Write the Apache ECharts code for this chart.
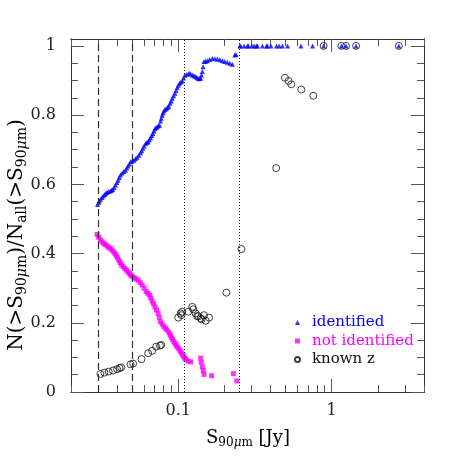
<!DOCTYPE html>
<html>
<head>
<meta charset="utf-8">
<script src="https://cdn.jsdelivr.net/npm/echarts@6/dist/echarts.min.js"></script>
<style>
  html, body { margin: 0; padding: 0; background: #fff; }
  #chart { width: 463px; height: 463px; }
</style>
</head>
<body>
<div id="chart"></div>
<script>
// cumulative fractions
const identifiedFlux = [
  0.0298, 0.0303, 0.0306, 0.0312, 0.0319, 0.0325, 0.0332, 0.0338, 0.0344, 0.0352,
  0.0361, 0.0368, 0.0374, 0.0382, 0.0390, 0.0398, 0.0406, 0.0413, 0.0420, 0.0431,
  0.0442, 0.0453, 0.0462, 0.0471, 0.0480, 0.0489, 0.0500, 0.0514, 0.0527, 0.0540,
  0.0554, 0.0568, 0.0578, 0.0588, 0.0600, 0.0612, 0.0625, 0.0637, 0.0648, 0.0660,
  0.0672, 0.0684, 0.0695, 0.0705, 0.0717, 0.0729, 0.0742, 0.0756, 0.0767, 0.0776,
  0.0786, 0.0796, 0.0806, 0.0820, 0.0835, 0.0852, 0.0869, 0.0885, 0.0900, 0.0914,
  0.0933, 0.0952, 0.0968, 0.0985, 0.1003, 0.1021, 0.1042, 0.1062, 0.1083, 0.1106,
  0.1140, 0.1175, 0.1205, 0.1235, 0.1267, 0.1299, 0.1325, 0.1351, 0.1380, 0.1401,
  0.1418, 0.1435, 0.1452, 0.1472, 0.1510, 0.1547, 0.1600, 0.1667, 0.1730, 0.1799,
  0.1870, 0.1940, 0.2010, 0.2090, 0.2170, 0.2254, 0.2337, 0.2380, 0.2520, 0.2557,
  0.2688, 0.2825, 0.2868, 0.3018, 0.3125, 0.3235, 0.3283, 0.354, 0.3759, 0.382,
  0.402, 0.437, 0.455, 0.478, 0.516, 0.631, 0.751, 0.887, 1.157, 1.242,
  1.443, 2.74
];
const identifiedFrac = [
  0.542, 0.548, 0.552, 0.557, 0.562, 0.567, 0.571, 0.574, 0.577, 0.579,
  0.581, 0.583, 0.585, 0.591, 0.598, 0.605, 0.612, 0.620, 0.627, 0.633,
  0.637, 0.641, 0.647, 0.653, 0.659, 0.665, 0.667, 0.670, 0.674, 0.678,
  0.684, 0.691, 0.697, 0.704, 0.711, 0.718, 0.721, 0.723, 0.729, 0.735,
  0.741, 0.747, 0.754, 0.761, 0.764, 0.766, 0.769, 0.771, 0.783, 0.791,
  0.800, 0.806, 0.812, 0.816, 0.819, 0.822, 0.826, 0.834, 0.841, 0.849,
  0.856, 0.863, 0.871, 0.880, 0.886, 0.892, 0.896, 0.899, 0.907, 0.915,
  0.918, 0.921, 0.919, 0.916, 0.914, 0.912, 0.909, 0.905, 0.906, 0.907,
  0.916, 0.926, 0.940, 0.955, 0.956, 0.957, 0.961, 0.964, 0.963, 0.962,
  0.960, 0.957, 0.955, 0.953, 0.950, 0.947, 0.974, 0.975, 1, 1,
  1, 1, 1, 1, 1, 1, 1, 1, 1, 1,
  1, 1, 1, 1, 1, 1, 1, 1, 1, 1,
  1, 1
];

const notIdentifiedFlux = [
  0.0296, 0.0303, 0.0311, 0.0319, 0.0327, 0.0335, 0.0344, 0.0352, 0.0361, 0.0370,
  0.0380, 0.0387, 0.0394, 0.0402, 0.0410, 0.0418, 0.0427, 0.0438, 0.0449, 0.0460,
  0.0471, 0.0480, 0.0489, 0.0501, 0.0514, 0.0531, 0.0548, 0.0565, 0.0582, 0.0600,
  0.0618, 0.0634, 0.0650, 0.0663, 0.0676, 0.0690, 0.0705, 0.0722, 0.0740, 0.0753,
  0.0767, 0.0786, 0.0806, 0.0826, 0.0847, 0.0869, 0.0886, 0.0903, 0.0920, 0.0938,
  0.0955, 0.0973, 0.0992, 0.1011, 0.1030, 0.1049, 0.1069, 0.1089, 0.1106, 0.1123,
  0.1160, 0.1205, 0.1401, 0.1413, 0.1435, 0.1457, 0.1472, 0.1652, 0.2288, 0.2409
];
const notIdentifiedFrac = [
  0.455, 0.447, 0.439, 0.434, 0.429, 0.426, 0.422, 0.418, 0.415, 0.410,
  0.405, 0.400, 0.394, 0.388, 0.381, 0.374, 0.367, 0.362, 0.357, 0.352,
  0.347, 0.343, 0.338, 0.334, 0.330, 0.327, 0.323, 0.316, 0.309, 0.300,
  0.290, 0.285, 0.280, 0.272, 0.263, 0.255, 0.246, 0.237, 0.227, 0.215,
  0.203, 0.196, 0.189, 0.184, 0.179, 0.172, 0.165, 0.158, 0.152, 0.145,
  0.140, 0.134, 0.129, 0.124, 0.118, 0.113, 0.107, 0.102, 0.097, 0.094,
  0.089, 0.087, 0.098, 0.086, 0.073, 0.062, 0.051, 0.047, 0.053, 0.032
];

const knownZFlux = [
  0.0311, 0.0330, 0.0352, 0.0376, 0.0399, 0.0415, 0.0425, 0.0489, 0.0508, 0.0576,
  0.0637, 0.0676, 0.0718, 0.0760, 0.0775, 0.1000, 0.1037, 0.1062, 0.1050, 0.1162,
  0.1235, 0.1253, 0.1299, 0.1330, 0.1351, 0.1401, 0.1420, 0.1472, 0.1510, 0.1587,
  0.2060, 0.2582, 0.435, 0.496, 0.524, 0.545, 0.634, 0.759, 0.887, 1.157,
  1.242, 1.443, 2.74
];
const knownZFrac = [
  0.052, 0.056, 0.059, 0.062, 0.066, 0.069, 0.071, 0.080, 0.082, 0.095,
  0.112, 0.119, 0.131, 0.134, 0.136, 0.215, 0.227, 0.232, 0.222, 0.232,
  0.246, 0.239, 0.227, 0.219, 0.219, 0.213, 0.210, 0.222, 0.206, 0.215,
  0.287, 0.413, 0.647, 0.908, 0.899, 0.889, 0.874, 0.856, 1, 1,
  1, 1, 1
];

const dashedCuts = [0.03, 0.048];
const dottedCuts = [0.11, 0.25];

const xMajorTicks = [0.1, 1];
const xMinorTicks = [0.02, 0.03, 0.04, 0.05, 0.06, 0.07, 0.08, 0.09,
  0.2, 0.3, 0.4, 0.5, 0.6, 0.7, 0.8, 0.9, 2, 3, 4];
const yMajorTicks = [0, 0.2, 0.4, 0.6, 0.8, 1];
const yMinorTicks = [0.05, 0.1, 0.15, 0.25, 0.3, 0.35, 0.45, 0.5, 0.55,
  0.65, 0.7, 0.75, 0.85, 0.9, 0.95];

const zip = (xs, ys) => xs.map((x, i) => [x, ys[i]]);

const FONT = "DejaVu Serif";
const AXIS_COLOR = "#333";

function xAxisDef(position, ticks, len, labels) {
  return {
    type: "log",
    logBase: 10,
    min: 0.02,
    max: 4,
    position: position,
    axisLine: { show: true, onZero: false, lineStyle: { color: AXIS_COLOR, width: 1 } },
    axisTick: { show: true, inside: true, length: len, customValues: ticks,
      lineStyle: { color: "#555", width: 1 } },
    axisLabel: labels
      ? { show: true, customValues: ticks, margin: 11, color: "#222",
          fontFamily: FONT, fontSize: 16 }
      : { show: false },
    splitLine: { show: false }
  };
}

function yAxisDef(position, ticks, len, labels) {
  return {
    type: "value",
    min: 0,
    max: 1.02,
    position: position,
    axisLine: { show: true, onZero: false, lineStyle: { color: AXIS_COLOR, width: 1 } },
    axisTick: { show: true, inside: true, length: len, customValues: ticks,
      lineStyle: { color: "#555", width: 1 } },
    axisLabel: labels
      ? { show: true, customValues: ticks, margin: 15, color: "#222",
          fontFamily: FONT, fontSize: 16 }
      : { show: false },
    splitLine: { show: false }
  };
}

const cutMarks = dashedCuts.map(v => ({
  xAxis: v, lineStyle: { type: [7, 4], color: "#333", width: 1.2 }
})).concat(dottedCuts.map(v => ({
  xAxis: v, lineStyle: { type: [1, 2], color: "#111", width: 1 }
})));

const chart = echarts.init(document.getElementById("chart"));

const titleRich = size => ({
  a: { fontFamily: FONT, fontSize: size, lineHeight: size + 4, color: "#222" },
  b: { fontFamily: FONT, fontSize: size - 6, lineHeight: size - 6, verticalAlign: "bottom",
       color: "#222" },
  bi: { fontFamily: FONT, fontSize: size - 6, lineHeight: size - 6, verticalAlign: "bottom",
        fontStyle: "italic", color: "#222" }
});

const legendText = color => ({
  color: color, fontFamily: FONT, fontSize: 15, lineHeight: 14, padding: [0, 0, 0, 7]
});

chart.setOption({
  animation: false,
  backgroundColor: "#fff",
  grid: { left: 71, right: 39, top: 39, bottom: 71 },
  xAxis: [
    xAxisDef("bottom", xMajorTicks, 13, true),
    xAxisDef("bottom", xMinorTicks, 7, false),
    xAxisDef("top", xMajorTicks, 13, false),
    xAxisDef("top", xMinorTicks, 7, false)
  ],
  yAxis: [
    yAxisDef("left", yMajorTicks, 13, true),
    yAxisDef("left", yMinorTicks, 7, false),
    yAxisDef("right", yMajorTicks, 13, false),
    yAxisDef("right", yMinorTicks, 7, false)
  ],
  legend: {
    orient: "vertical",
    left: 294,
    top: 315,
    padding: 0,
    itemWidth: 5,
    itemHeight: 5,
    itemGap: 3.5,
    textStyle: legendText("#222"),
    data: [
      { name: "identified", icon: "triangle", textStyle: legendText("#0000ff") },
      { name: "not identified", icon: "rect", textStyle: legendText("#ff00ff") },
      { name: "known z", icon: "circle", textStyle: legendText("#111") }
    ]
  },
  graphic: [
    {
      type: "text",
      x: 248,
      y: 438,
      style: {
        text: "{a|S}{b|90}{bi|μ}{b|m}{a| [Jy]}",
        align: "center",
        verticalAlign: "middle",
        rich: titleRich(18)
      }
    },
    {
      type: "text",
      x: 17,
      y: 235,
      rotation: Math.PI / 2,
      style: {
        text: "{a|N(>S}{b|90}{bi|μ}{b|m}{a|)/N}{b|all}{a|(>S}{b|90}{bi|μ}{b|m}{a|)}",
        align: "center",
        verticalAlign: "middle",
        rich: titleRich(20)
      }
    }
  ],
  series: [
    {
      name: "known z",
      type: "scatter",
      data: zip(knownZFlux, knownZFrac),
      symbol: "circle",
      symbolSize: 7,
      itemStyle: { color: "transparent", borderColor: "#111", borderWidth: 1 },
      z: 2,
      markLine: {
        silent: true,
        symbol: ["none", "none"],
        label: { show: false },
        data: cutMarks
      }
    },
    {
      name: "not identified",
      type: "scatter",
      data: zip(notIdentifiedFlux, notIdentifiedFrac),
      symbol: "rect",
      symbolSize: 5,
      itemStyle: { color: "#ff00ff" },
      z: 3
    },
    {
      name: "identified",
      type: "scatter",
      data: zip(identifiedFlux, identifiedFrac),
      symbol: "triangle",
      symbolSize: 5,
      itemStyle: { color: "#0000ff" },
      z: 4
    }
  ]
});
</script>
</body>
</html>
